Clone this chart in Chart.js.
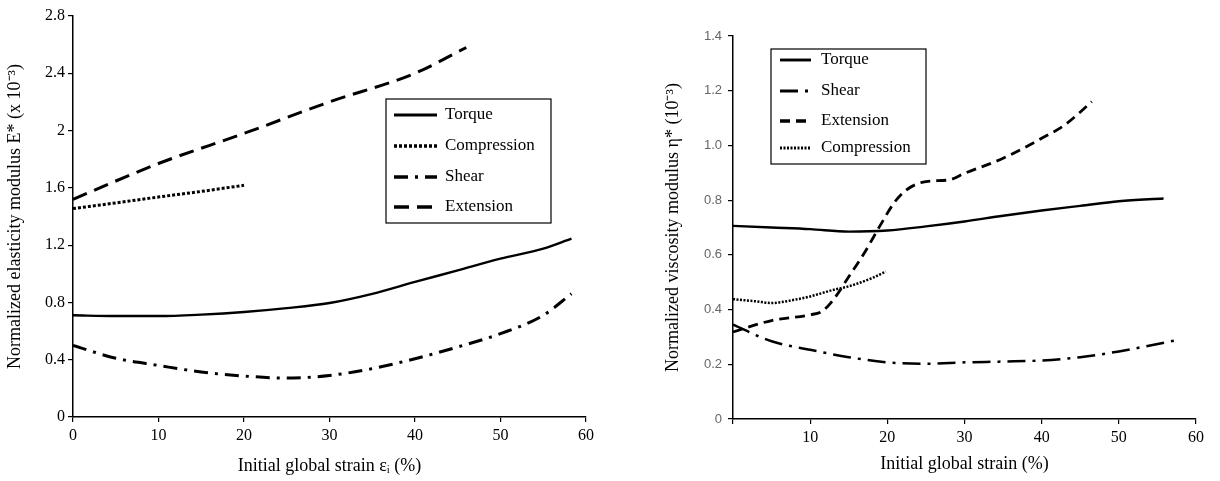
<!DOCTYPE html>
<html lang="en">
<head>
<meta charset="UTF-8">
<script src="https://cdn.jsdelivr.net/npm/chart.js"></script>
<title>Normalized moduli vs initial strain</title>
<style>
  html, body { margin: 0; padding: 0; background: #fff; }
  .wrap { display: flex; width: 1220px; height: 481px; }
  .box { position: relative; width: 610px; height: 481px; }
</style>
</head>
<body>
<div class="wrap">
  <div class="box"><canvas id="elas" width="610" height="481"></canvas></div>
  <div class="box"><canvas id="visc" width="610" height="481"></canvas></div>
</div>
<script>
// left chart: elasticity modulus
const elasTorqueX = [0, 5, 10, 15, 20, 25, 30, 35, 40, 45, 50, 55, 58.3];
const elasTorque  = [0.71, 0.705, 0.705, 0.715, 0.733, 0.76, 0.796, 0.86, 0.943, 1.024, 1.106, 1.175, 1.245];
const elasCompX = [0, 5, 10, 15, 20];
const elasComp  = [1.455, 1.495, 1.536, 1.575, 1.618];
const elasShearX = [0, 5, 10, 15, 20, 25, 30, 35, 40, 45, 50, 55, 58.3];
const elasShear  = [0.50, 0.41, 0.36, 0.314, 0.286, 0.272, 0.29, 0.338, 0.407, 0.489, 0.582, 0.71, 0.861];
const elasExtX = [0, 10, 20, 30, 40, 46];
const elasExt  = [1.52, 1.77, 1.98, 2.2, 2.4, 2.58];

// right chart: viscosity modulus
const viscTorqueX = [0, 5, 10, 15, 20, 25, 30, 35, 40, 45, 50, 55.8];
const viscTorque  = [0.706, 0.70, 0.694, 0.685, 0.689, 0.704, 0.722, 0.743, 0.762, 0.779, 0.796, 0.806];
const viscShearX = [0, 5, 10, 15, 20, 25, 30, 35, 40, 45, 50, 57.3];
const viscShear  = [0.345, 0.284, 0.253, 0.226, 0.207, 0.202, 0.207, 0.21, 0.214, 0.226, 0.247, 0.287];
const viscExtX = [0, 5, 10, 11.5, 13, 15, 17, 19, 21, 22.5, 25, 28, 30, 35, 40, 43, 46.5];
const viscExt  = [0.318, 0.36, 0.381, 0.393, 0.436, 0.52, 0.606, 0.704, 0.795, 0.838, 0.868, 0.874, 0.898, 0.953, 1.026, 1.075, 1.16];
const viscCompX = [0, 3, 5, 8, 10, 13, 15, 18, 19.8];
const viscComp  = [0.438, 0.43, 0.424, 0.436, 0.448, 0.472, 0.485, 0.515, 0.539];

const elasTicksY = [0, 0.4, 0.8, 1.2, 1.6, 2, 2.4, 2.8];
const viscTicksY = [0, 0.2, 0.4, 0.6, 0.8, 1.0, 1.2, 1.4];

const serif = '"Liberation Serif", "Times New Roman", serif';

function pts(xs, ys) {
  return xs.map((x, i) => ({ x: x, y: ys[i] }));
}

function series(label, xs, ys, dash, width) {
  return {
    label: label,
    data: pts(xs, ys),
    borderColor: '#000',
    borderWidth: width,
    borderDash: dash,
    borderCapStyle: 'butt',
    pointRadius: 0,
    fill: false,
    cubicInterpolationMode: 'monotone'
  };
}

// draws the boxed legend inside the plot, like the original figure
const boxLegend = {
  id: 'boxLegend',
  afterDraw(chart, args, opts) {
    const ctx = chart.ctx;
    ctx.save();
    ctx.strokeStyle = '#000';
    ctx.lineWidth = 1.2;
    ctx.setLineDash([]);
    ctx.strokeRect(opts.x, opts.y, opts.w, opts.h);
    ctx.font = opts.font;
    ctx.fillStyle = '#000';
    ctx.textBaseline = 'middle';
    chart.data.datasets.forEach((ds, i) => {
      const y = opts.rows[i];
      ctx.beginPath();
      ctx.lineWidth = ds.borderWidth + 0.5;
      ctx.setLineDash(ds.borderDash || []);
      ctx.moveTo(opts.lineX0, y);
      ctx.lineTo(opts.lineX1, y);
      ctx.stroke();
      ctx.setLineDash([]);
      ctx.fillText(ds.label, opts.textX, y);
    });
    ctx.restore();
  }
};

function axisFont(size) {
  return { family: serif, size: size };
}

new Chart(document.getElementById('elas'), {
  type: 'line',
  data: {
    datasets: [
      series('Torque', elasTorqueX, elasTorque, [], 2.4),
      series('Compression', elasCompX, elasComp, [3, 2], 3),
      series('Shear', elasShearX, elasShear, [14, 7, 3, 7], 3),
      series('Extension', elasExtX, elasExt, [15, 8], 3)
    ]
  },
  options: {
    responsive: false,
    animation: false,
    layout: { padding: { top: 16, right: 24, left: 0, bottom: 0 } },
    plugins: {
      legend: { display: false },
      tooltip: { enabled: false },
      boxLegend: {
        x: 386, y: 99, w: 165, h: 124,
        lineX0: 394, lineX1: 437, textX: 445,
        rows: [115, 146, 177, 207],
        font: '17px ' + serif
      }
    },
    scales: {
      x: {
        type: 'linear', min: 0, max: 60,
        afterFit(s) { s.height = 64; },
        ticks: { stepSize: 10, color: '#000', font: axisFont(16), padding: 4 },
        grid: { drawOnChartArea: false, tickLength: 5, color: '#000', lineWidth: 1.2 },
        border: { color: '#000', width: 1.5 },
        title: { display: true, text: 'Initial global strain \u03b5\u1d62 (%)', color: '#000', font: axisFont(18), padding: { top: 2, bottom: 4 } }
      },
      y: {
        min: 0, max: 2.8,
        afterFit(s) { s.width = 73; },
        afterBuildTicks(s) { s.ticks = elasTicksY.map(v => ({ value: v })); },
        ticks: { color: '#000', font: axisFont(16), padding: 3, callback: v => String(+v.toFixed(1)) },
        grid: { drawOnChartArea: false, tickLength: 5, color: '#000', lineWidth: 1.2 },
        border: { color: '#000', width: 1.5 },
        title: { display: true, text: 'Normalized elasticity modulus E* (x 10\u207b\u00b3)', color: '#000', font: axisFont(18), padding: { top: 4, bottom: 2 } }
      }
    }
  },
  plugins: [boxLegend]
});

new Chart(document.getElementById('visc'), {
  type: 'line',
  data: {
    datasets: [
      series('Torque', viscTorqueX, viscTorque, [], 2.4),
      series('Shear', viscShearX, viscShear, [18, 7, 3, 7], 2.5),
      series('Extension', viscExtX, viscExt, [10, 6], 2.8),
      series('Compression', viscCompX, viscComp, [2, 1.5], 2.5)
    ]
  },
  options: {
    responsive: false,
    animation: false,
    layout: { padding: { top: 36, right: 24, left: 48, bottom: 0 } },
    plugins: {
      legend: { display: false },
      tooltip: { enabled: false },
      boxLegend: {
        x: 161, y: 49, w: 155, h: 115,
        lineX0: 170, lineX1: 201, textX: 211,
        rows: [60, 91, 121, 148],
        font: '17px ' + serif
      }
    },
    scales: {
      x: {
        type: 'linear', min: 0, max: 60,
        afterFit(s) { s.height = 62; },
        ticks: {
          stepSize: 10, color: '#000', font: axisFont(16), padding: 4,
          callback: v => v === 0 ? '' : v
        },
        grid: { drawOnChartArea: false, tickLength: 5, color: '#000', lineWidth: 1.2 },
        border: { color: '#000', width: 1.5 },
        title: { display: true, text: 'Initial global strain (%)', color: '#000', font: axisFont(18), padding: { top: 2, bottom: 6 } }
      },
      y: {
        min: 0, max: 1.4,
        afterFit(s) { s.width = 75; },
        afterBuildTicks(s) { s.ticks = viscTicksY.map(v => ({ value: v })); },
        ticks: {
          color: '#666', font: { family: '"Liberation Sans", Arial, sans-serif', size: 13 }, padding: 6,
          callback: v => v === 0 ? '0' : v.toFixed(1)
        },
        grid: { drawOnChartArea: false, tickLength: 5, color: '#000', lineWidth: 1.2 },
        border: { color: '#000', width: 1.5 },
        title: { display: true, text: 'Normalized viscosity modulus \u03b7* (10\u207b\u00b3)', color: '#000', font: axisFont(18), padding: { top: 4, bottom: 4 } }
      }
    }
  },
  plugins: [boxLegend]
});
</script>
</body>
</html>
